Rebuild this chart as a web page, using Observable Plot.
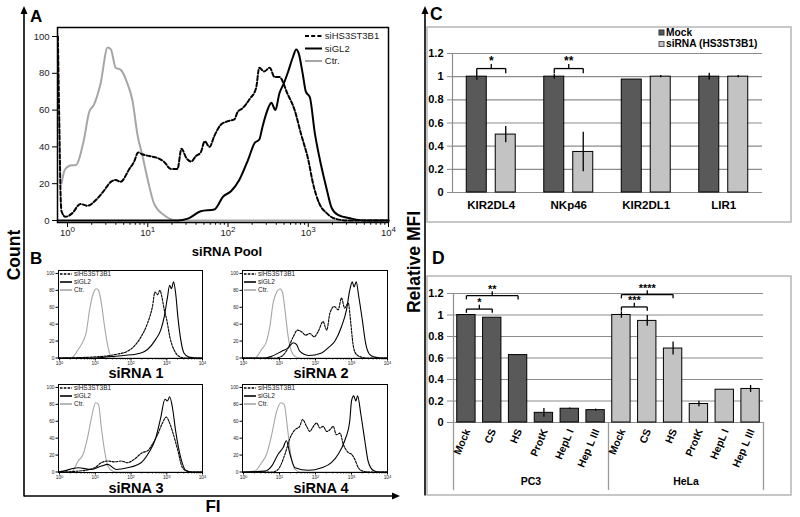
<!DOCTYPE html>
<html><head><meta charset="utf-8">
<script src="https://cdn.jsdelivr.net/npm/d3@7"></script>
<script src="https://cdn.jsdelivr.net/npm/@observablehq/plot@0.6"></script>
<style>
body{margin:0;background:#fff;}
#fig{position:relative;width:800px;height:517px;overflow:hidden;background:#fff;}
#fig svg{position:absolute;overflow:visible;}
</style></head><body><div id="fig"></div>
<script>
const FONT = '"Liberation Sans", Arial, sans-serif';

// ---------- Panel A / B : flow-cytometry histograms, [log10(FI), count] ----------
const histSeries = ["siHS3ST3B1", "siGL2", "Ctr."];
const decadeExps = [0, 1, 2, 3, 4];

const poolHS = [[-0.12,100],[-0.11,72],[-0.1,47],[-0.09,20],[-0.075,5],[-0.025,2],[0.06,4],[0.16,9],[0.25,8],[0.35,11],[0.45,16],[0.54,21],[0.6,22],[0.66,21],[0.77,28],[0.83,32],[0.88,37],[0.93,36],[1.02,35],[1.12,34],[1.2,32],[1.29,28],[1.37,28],[1.42,39],[1.48,34],[1.54,32],[1.6,35],[1.66,37],[1.71,43],[1.77,40],[1.83,46],[1.91,52],[2.0,54],[2.08,55],[2.12,59],[2.18,61],[2.27,66],[2.35,72],[2.39,83],[2.45,81],[2.52,83],[2.58,78],[2.64,78],[2.74,69],[2.83,60],[2.91,47],[3.0,33],[3.06,20],[3.14,9],[3.23,4],[3.33,1],[3.5,0],[4,0]];
const poolGL2 = [[-0.12,0],[1.37,0],[1.5,1],[1.66,5],[1.83,6],[1.94,13],[2.04,16],[2.14,22],[2.25,33],[2.33,42],[2.39,44],[2.43,51],[2.5,61],[2.54,64],[2.59,60],[2.64,69],[2.7,75],[2.75,81],[2.81,89],[2.85,93],[2.88,91],[2.93,80],[2.97,70],[3.02,67],[3.08,48],[3.16,30],[3.23,17],[3.29,7],[3.37,3],[3.54,1],[3.7,0],[4,0]];
const poolCtr = [[-0.075,20],[-0.04,27],[-0.004,29],[0.05,30],[0.1,30],[0.2,43],[0.27,59],[0.33,63],[0.41,74],[0.5,94],[0.54,93],[0.6,83],[0.66,82],[0.75,74],[0.81,65],[0.87,47],[0.94,34],[1.0,22],[1.08,9],[1.2,3],[1.37,0],[4,0]];

const s1HS = [[-0.03,0],[0.89,1],[1.54,4],[1.9,8],[2.09,14],[2.28,25],[2.46,41],[2.6,61],[2.67,78],[2.74,75],[2.81,80],[2.86,73],[2.93,57],[3.0,45],[3.09,24],[3.2,10],[3.34,2],[3.5,0],[4,0]];
const s1GL2 = [[-0.03,0],[1.0,0],[1.26,1],[1.8,3],[2.28,6],[2.46,10],[2.69,22],[2.83,33],[2.93,49],[3.02,72],[3.08,86],[3.13,82],[3.19,90],[3.25,76],[3.31,49],[3.39,22],[3.48,6],[3.62,1],[3.8,0],[4,0]];
const s1Ctr = [[-0.03,0],[0.33,0],[0.52,10],[0.66,20],[0.75,31],[0.84,57],[0.94,76],[1.03,82],[1.09,80],[1.17,65],[1.26,37],[1.35,14],[1.44,2],[1.6,0],[4,0]];

const s2HS = [[-0.03,0],[0.9,0],[1.06,2],[1.24,12],[1.38,25],[1.5,33],[1.61,31],[1.73,27],[1.84,29],[1.96,25],[2.07,31],[2.21,43],[2.31,33],[2.4,53],[2.52,61],[2.63,57],[2.72,71],[2.81,59],[2.91,65],[2.98,41],[3.05,14],[3.14,4],[3.28,1],[3.4,0],[4,0]];
const s2GL2 = [[-0.03,0],[0.6,0],[0.78,2],[1.06,8],[1.24,12],[1.38,18],[1.47,16],[1.56,8],[1.8,3],[2.17,6],[2.35,12],[2.54,20],[2.72,37],[2.86,57],[2.95,80],[3.02,90],[3.07,84],[3.13,90],[3.2,73],[3.3,45],[3.39,18],[3.51,4],[3.65,1],[3.8,0],[4,0]];
const s2Ctr = [[-0.03,0],[0.31,0],[0.5,10],[0.64,20],[0.73,37],[0.82,65],[0.92,78],[1.01,82],[1.08,78],[1.15,57],[1.24,25],[1.33,8],[1.47,1],[1.6,0],[4,0]];

const s3HS = [[-0.03,0],[0.52,1],[0.98,5],[1.17,11],[1.35,13],[1.54,12],[1.72,13],[1.9,11],[2.09,15],[2.32,23],[2.46,25],[2.6,33],[2.74,44],[2.88,58],[2.99,65],[3.06,60],[3.16,48],[3.3,27],[3.44,5],[3.57,1],[3.7,0],[4,0]];
const s3GL2 = [[-0.03,0],[0.1,1],[0.52,5],[0.89,3],[1.17,7],[1.35,9],[1.58,3],[1.9,5],[2.28,11],[2.5,23],[2.69,40],[2.83,64],[2.95,86],[3.02,84],[3.08,89],[3.16,76],[3.25,48],[3.39,17],[3.53,2],[3.7,0],[4,0]];
const s3Ctr = [[-0.03,0],[0.33,0],[0.52,13],[0.66,21],[0.8,44],[0.91,68],[1.01,82],[1.09,80],[1.17,52],[1.26,25],[1.35,7],[1.49,1],[1.6,0],[4,0]];

const s4HS = [[-0.03,0],[0.8,0],[0.96,3],[1.15,21],[1.29,40],[1.43,50],[1.56,54],[1.64,62],[1.75,54],[1.84,48],[1.94,54],[2.03,58],[2.12,52],[2.21,54],[2.31,48],[2.4,50],[2.49,54],[2.58,44],[2.68,46],[2.77,33],[2.91,23],[3.0,21],[3.09,15],[3.19,5],[3.32,1],[3.5,0],[4,0]];
const s4GL2 = [[-0.03,0],[0.59,1],[0.78,7],[0.96,21],[1.1,29],[1.19,37],[1.29,21],[1.43,5],[1.8,2],[2.17,5],[2.44,11],[2.63,21],[2.81,37],[2.95,60],[3.0,84],[3.06,90],[3.12,84],[3.17,90],[3.26,68],[3.37,37],[3.46,13],[3.6,2],[3.75,0],[4,0]];
const s4Ctr = [[-0.03,0],[0.31,1],[0.5,11],[0.64,21],[0.78,44],[0.92,72],[1.04,82],[1.13,80],[1.22,52],[1.31,21],[1.43,3],[1.57,0],[4,0]];

const countTicks = [0, 20, 40, 60, 80, 100];

// ---------- Panel C ----------
const receptors = ["KIR2DL4", "NKp46", "KIR2DL1", "LIR1"];
const cSeries = ["Mock", "siRNA (HS3ST3B1)"];
const mockMFI = [1.0, 1.0, 0.975, 1.0];
const mockErr = [0.03, 0.02, 0, 0.03];
const sirnaMFI = [0.5, 0.35, 1.0, 1.0];
const sirnaErr = [0.07, 0.17, 0.01, 0.01];
const cBrackets = [{receptor: "KIR2DL4", label: "*", level: 1.07}, {receptor: "NKp46", label: "**", level: 1.07}];

// ---------- Panel D ----------
const treatments = ["Mock", "CS", "HS", "ProtK", "HepL I", "Hep L III"];
const cellLines = ["PC3", "HeLa"];
const pc3MFI = [1.0, 0.975, 0.627, 0.09, 0.128, 0.115];
const pc3Err = [0, 0.004, 0.003, 0.04, 0.008, 0.01];
const helaMFI = [1.0, 0.945, 0.688, 0.172, 0.305, 0.312];
const helaErr = [0.03, 0.05, 0.06, 0.025, 0.005, 0.032];
const dBrackets = [
  {line: "PC3", from: "Mock", to: "CS", level: 1.055, label: "*"},
  {line: "PC3", from: "Mock", to: "HS", level: 1.18, label: "**"},
  {line: "HeLa", from: "Mock", to: "CS", level: 1.075, label: "***"},
  {line: "HeLa", from: "Mock", to: "HS", level: 1.19, label: "****"}
];
const mfiTicks = [0, 0.2, 0.4, 0.6, 0.8, 1, 1.2];

const DARK = "#595959", LIGHT = "#c3c3c3", GRID = "#8c8c8c";
const fig = document.getElementById("fig");

function place(svg, left, top) {
  svg.style.left = left + "px";
  svg.style.top = top + "px";
  fig.appendChild(svg);
  return svg;
}

function superscriptTicks(svg) {
  d3.select(svg).selectAll("text").each(function () {
    const t = this.textContent;
    if (!t.startsWith("10^")) return;
    const e = t.slice(3);
    const s = d3.select(this);
    s.text(null);
    s.append("tspan").text("10");
    s.append("tspan").attr("dy", "-0.45em").attr("font-size", "0.85em").text(e);
  });
}

function histogram(hs, gl2, ctr, o) {
  const rows = arr => arr.map(([lx, c]) => ({fi: 10 ** lx, count: c}));
  const decades = decadeExps.map(e => 10 ** e);
  const minor = decadeExps.slice(0, -1).flatMap(e => d3.range(2, 10).map(m => m * 10 ** e));
  const svg = Plot.plot({
    width: o.width, height: o.height,
    marginLeft: o.ml, marginTop: o.mt, marginRight: o.mr, marginBottom: o.mb,
    style: {fontFamily: FONT, fontSize: o.fs + "px", color: "#222", background: "none", overflow: "visible"},
    x: {type: "log", domain: [10 ** o.xmin, 1e4], axis: null},
    y: {domain: o.ydom, axis: null},
    marks: [
      Plot.axisY(countTicks, {tickSize: o.tick, tickPadding: o.pad, label: null, fontSize: o.fs, stroke: "#000"}),
      Plot.axisX(decades, {tickFormat: d => "10^" + Math.round(Math.log10(d)), tickSize: o.tick, tickPadding: o.padx, label: null, fontSize: o.fs, stroke: "#000"}),
      Plot.axisX(minor, {tickFormat: () => "", tickSize: o.tick * 0.55, label: null, stroke: "#000"}),
      Plot.line(rows(ctr), {x: "fi", y: "count", stroke: "#a6a6a6", strokeWidth: o.lw, curve: "monotone-x"}),
      Plot.line(rows(gl2), {x: "fi", y: "count", stroke: "#000", strokeWidth: o.lw, curve: "monotone-x"}),
      Plot.line(rows(hs), {x: "fi", y: "count", stroke: "#000", strokeWidth: o.lw, strokeDasharray: o.dash, curve: "monotone-x"}),
      Plot.frame({stroke: "#000", strokeWidth: o.fw})
    ]
  });
  superscriptTicks(svg);
  return svg;
}

// Panel A
place(histogram(poolHS, poolGL2, poolCtr, {
  width: 400, height: 250, ml: 57, mt: 27, mr: 12, mb: 28, xmin: -0.125, ydom: [-1.1, 104.9],
  fs: 9.5, tick: 5, pad: 3, padx: 1.5, lw: 2, dash: "4,2.2", fw: 1.5
}), 0, 0);

// Panel B small multiples
const small = {width: 180, height: 110, ml: 30, mt: 8, mr: 6, mb: 14, xmin: -0.03, ydom: [-0.6, 103.5],
  fs: 4.8, tick: 2.5, pad: 1.5, padx: 1, lw: 1.1, dash: "2.2,1.3", fw: 1};
place(histogram(s1HS, s1GL2, s1Ctr, small), 28, 262);
place(histogram(s2HS, s2GL2, s2Ctr, {...small, mr: 5}), 212, 262);
place(histogram(s3HS, s3GL2, s3Ctr, small), 28, 376);
place(histogram(s4HS, s4GL2, s4Ctr, {...small, mr: 5}), 212, 376);

// ---------- Panel C chart ----------
const C_OFF = 0.187, C_HALF = 0.129;
const cRows = receptors.flatMap((r, i) => [
  {r, i, s: 0, v: mockMFI[i], e: mockErr[i]},
  {r, i, s: 1, v: sirnaMFI[i], e: sirnaErr[i]}
]);
const cx = d => d.i + (d.s - 0.5) * 2 * C_OFF;
const cPos = (name, s) => receptors.indexOf(name) + (s - 0.5) * 2 * C_OFF;
const yFmt = d => d === 0 ? "0" : d === 1 ? "1" : d.toFixed(1);

function bracketSegs(list, posFrom, posTo, drop, rise) {
  return list.flatMap(b => {
    const a = posFrom(b), c = posTo(b), m = (a + c) / 2, y = b.level;
    return [
      {x1: a, y1: y - drop, x2: a, y2: y},
      {x1: a, y1: y, x2: c, y2: y},
      {x1: c, y1: y, x2: c, y2: y - drop},
      {x1: m, y1: y, x2: m, y2: y + rise}
    ];
  });
}

const cSegs = bracketSegs(cBrackets, b => cPos(b.receptor, 0), b => cPos(b.receptor, 1), 0.04, 0.04);
place(Plot.plot({
  width: 364, height: 195, marginLeft: 25, marginTop: 26, marginRight: 29, marginBottom: 30,
  style: {fontFamily: FONT, fontSize: "11px", color: "#000", background: "none", overflow: "visible"},
  x: {domain: [-0.5, receptors.length - 0.5], axis: null},
  y: {domain: [0, 1.2], axis: null},
  color: {type: "identity"},
  marks: [
    Plot.gridY(mfiTicks, {stroke: GRID, strokeOpacity: 1, strokeWidth: 1.2}),
    Plot.ruleX([-0.5], {y1: 0, y2: 1.2, stroke: GRID, strokeWidth: 1.2}),
    Plot.axisY(mfiTicks, {tickSize: 5, tickPadding: 4, tickFormat: yFmt, label: null, fontWeight: "bold", fontSize: 11, stroke: GRID}),
    Plot.axisX(d3.range(receptors.length), {tickSize: 0, tickPadding: 8, tickFormat: i => receptors[i], label: null, fontWeight: "bold", fontSize: 11.5}),
    Plot.rectY(cRows, {x1: d => cx(d) - C_HALF, x2: d => cx(d) + C_HALF, y1: 0, y2: "v", fill: d => d.s ? LIGHT : DARK, stroke: "#000", strokeWidth: 1}),
    Plot.ruleX(cRows.filter(d => d.e > 0), {x: cx, y1: d => d.v - d.e, y2: d => d.v + d.e, stroke: "#000", strokeWidth: 1.3}),
    Plot.link(cSegs, {x1: "x1", y1: "y1", x2: "x2", y2: "y2", stroke: "#000", strokeWidth: 1.3}),
    Plot.text(cBrackets, {x: b => (cPos(b.receptor, 0) + cPos(b.receptor, 1)) / 2, y: b => b.level + 0.04, text: "label", lineAnchor: "middle", dy: -3, fontWeight: "bold", fontSize: 12})
  ]
}), 427, 27);

// ---------- Panel D chart ----------
const D_HALF = 0.355;
const dRows = cellLines.flatMap((cl, g) => treatments.map((t, j) => ({
  cl, g, t, idx: g * treatments.length + j,
  v: (g ? helaMFI : pc3MFI)[j], e: (g ? helaErr : pc3Err)[j]
})));
const dPos = (line, name) => cellLines.indexOf(line) * treatments.length + treatments.indexOf(name);
const dSegs = bracketSegs(dBrackets, b => dPos(b.line, b.from), b => dPos(b.line, b.to), 0.035, 0.04);
const dDomain = [-0.5, dRows.length - 0.5];
place(Plot.plot({
  width: 365, height: 148, marginLeft: 27, marginTop: 17, marginRight: 28, marginBottom: 2,
  style: {fontFamily: FONT, fontSize: "11px", color: "#000", background: "none", overflow: "visible"},
  x: {domain: dDomain, axis: null},
  y: {domain: [0, 1.2], axis: null},
  color: {type: "identity"},
  marks: [
    Plot.gridY(mfiTicks, {stroke: GRID, strokeOpacity: 1, strokeWidth: 1.2}),
    Plot.ruleX([dDomain[0]], {y1: 0, y2: 1.2, stroke: GRID, strokeWidth: 1.2}),
    Plot.axisY(mfiTicks, {tickSize: 6, tickPadding: 4, tickFormat: yFmt, label: null, fontWeight: "bold", fontSize: 11, stroke: GRID}),
    Plot.rectY(dRows, {x1: d => d.idx - D_HALF, x2: d => d.idx + D_HALF, y1: 0, y2: "v", fill: d => d.g ? LIGHT : DARK, stroke: "#000", strokeWidth: 1}),
    Plot.ruleX(dRows.filter(d => d.e > 0.006), {x: "idx", y1: d => d.v - d.e, y2: d => d.v + d.e, stroke: "#000", strokeWidth: 1.3}),
    Plot.link(dSegs, {x1: "x1", y1: "y1", x2: "x2", y2: "y2", stroke: "#000", strokeWidth: 1.3}),
    Plot.text(dBrackets, {x: b => (dPos(b.line, b.from) + dPos(b.line, b.to)) / 2, y: b => b.level + 0.04, text: "label", lineAnchor: "middle", dy: -2, fontWeight: "bold", fontSize: 11})
  ]
}), 426, 276);

// Panel D category table below axis
const groupEdges = d3.range(cellLines.length + 1).map(g => g * treatments.length - 0.5);
place(Plot.plot({
  width: 365, height: 73, marginLeft: 27, marginTop: 0, marginRight: 28, marginBottom: 5,
  style: {fontFamily: FONT, fontSize: "10.5px", color: "#000", background: "none", overflow: "visible"},
  x: {domain: dDomain, axis: null},
  y: {axis: null},
  marks: [
    Plot.ruleX(groupEdges, {stroke: "#9a9a9a", strokeWidth: 1.3}),
    Plot.text(dRows, {x: "idx", text: "t", frameAnchor: "top", lineAnchor: "middle", textAnchor: "end", rotate: -67, dx: 1, dy: 7, fontWeight: "bold", fontSize: 10.5}),
    Plot.text(cellLines, {x: (d, g) => g * treatments.length + (treatments.length - 1) / 2, text: d => d, frameAnchor: "bottom", lineAnchor: "middle", dy: -9, fontWeight: "bold", fontSize: 10.5})
  ]
}), 426, 422);

// ---------- Overlay: axes arrows, panel letters, titles, legends, boxes ----------
const ov = d3.select(fig).append("svg").attr("width", 800).attr("height", 517)
  .style("left", "0px").style("top", "0px").style("font-family", FONT);

// grey panel boxes for C and D
ov.append("rect").attr("x", 427).attr("y", 27).attr("width", 364).attr("height", 195)
  .attr("fill", "none").attr("stroke", "#b5b5b5").attr("stroke-width", 1.5);
ov.append("rect").attr("x", 427).attr("y", 276).attr("width", 364).attr("height", 219)
  .attr("fill", "none").attr("stroke", "#b5b5b5").attr("stroke-width", 1.5);

// arrows
const blk = {stroke: "#000", "stroke-width": 1.6};
function line(x1, y1, x2, y2) {
  const l = ov.append("line").attr("x1", x1).attr("y1", y1).attr("x2", x2).attr("y2", y2);
  Object.entries(blk).forEach(([k, v]) => l.attr(k, v));
}
line(24, 12, 24, 496.5);
line(24, 496, 393, 496);
line(425, 12, 425, 495.5);
ov.append("path").attr("d", "M24,6 L20.5,14 L27.5,14 Z").attr("fill", "#000");
ov.append("path").attr("d", "M400,496 L392,492.5 L392,499.5 Z").attr("fill", "#000");
ov.append("path").attr("d", "M425,6 L421.5,14 L428.5,14 Z").attr("fill", "#000");

function label(x, y, txt, size, opts = {}) {
  const t = ov.append("text").attr("x", x).attr("y", y).text(txt)
    .attr("font-size", size).attr("font-weight", opts.weight || "bold")
    .attr("text-anchor", opts.anchor || "start").attr("fill", opts.fill || "#000");
  if (opts.rotate) t.attr("transform", `rotate(${opts.rotate},${x},${y})`);
  return t;
}
label(30, 22, "A", 17);
label(30, 264, "B", 17);
label(430, 20, "C", 17.5);
label(432, 264, "D", 17.5);
label(227, 256, "siRNA Pool", 13, {anchor: "middle"});
["siRNA 1", "siRNA 2", "siRNA 3", "siRNA 4"].forEach((t, i) => {
  label(i % 2 ? 321 : 136, i < 2 ? 378 : 493, t, 14.5, {anchor: "middle"});
});
label(20, 255, "Count", 17.5, {anchor: "middle", rotate: -90});
label(213, 512, "FI", 17, {anchor: "middle"});
label(420, 262, "Relative MFI", 17.5, {anchor: "middle", rotate: -90});

// histogram legends
const legendStyles = [
  {stroke: "#000", dash: true},
  {stroke: "#000", dash: false},
  {stroke: "#a6a6a6", dash: false}
];
function histLegend(x, y, dy, len, fs, lw, dash) {
  histSeries.forEach((name, i) => {
    const st = legendStyles[i];
    const l = ov.append("line").attr("x1", x).attr("x2", x + len).attr("y1", y + i * dy).attr("y2", y + i * dy)
      .attr("stroke", st.stroke).attr("stroke-width", lw);
    if (st.dash) l.attr("stroke-dasharray", dash);
    ov.append("text").attr("x", x + len + fs * 0.3).attr("y", y + i * dy).attr("dy", "0.35em")
      .attr("font-size", fs).attr("fill", "#222").text(name);
  });
}
histLegend(305, 36, 12.5, 17, 9.5, 2, "4,2.2");
[[60, 274], [244, 274], [60, 388], [244, 388]].forEach(([x, y]) => histLegend(x, y, 8, 12, 6.5, 1.6, "2.5,1.3"));

// panel C legend
[[DARK, "#333"], [LIGHT, "#555"]].forEach(([f, s], i) => {
  ov.append("rect").attr("x", 659).attr("y", 30 + i * 11.5).attr("width", 5).attr("height", 5)
    .attr("fill", f).attr("stroke", s).attr("stroke-width", 1);
  label(666, 35.5 + i * 11.5, cSeries[i], 10.2);
});
</script></body></html>
